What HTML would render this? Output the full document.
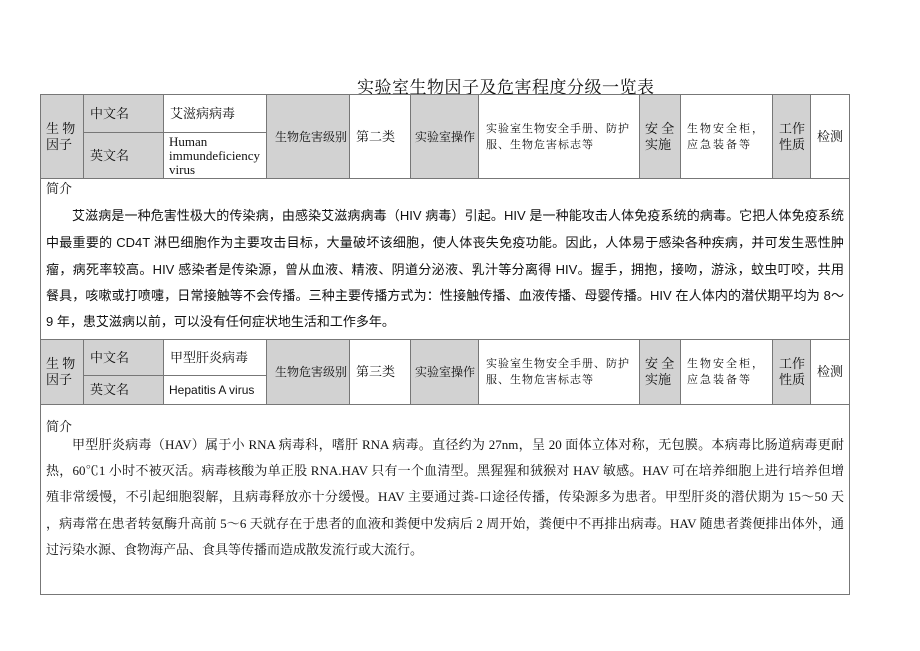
<!DOCTYPE html>
<html><head><meta charset="utf-8"><style>
body{margin:0;width:920px;height:651px;background:#fff;position:relative;font-family:"Liberation Serif","Noto Serif CJK SC","Noto Sans CJK SC",serif;color:#111;overflow:hidden}
.a{position:absolute}
.c{position:absolute;box-sizing:border-box;border:1px solid #777;display:flex;align-items:center;font-size:12px;line-height:16px;white-space:nowrap}
.g{background:#d2d2d2}
.l{position:absolute;left:46px;width:798px;font-size:13px;white-space:nowrap;text-align:justify;text-align-last:justify;line-height:18px;overflow:hidden}
.s{font-family:"Liberation Sans","Noto Sans CJK SC",sans-serif}
</style></head><body>
<div class="a" style="left:357px;top:73px;font-size:17px;letter-spacing:0.5px">实验室生物因子及危害程度分级一览表</div>

<div class="c g" style="left:40px;top:94px;width:44px;height:85px;padding-left:5px;font-size:13px">生&nbsp;物<br>因子</div>
<div class="c g" style="left:83px;top:94px;width:81px;height:39px;padding-left:6px;font-size:13px">中文名</div>
<div class="c g" style="left:83px;top:132px;width:81px;height:47px;padding-left:6px;font-size:13px">英文名</div>
<div class="c" style="left:163px;top:94px;width:104px;height:39px;padding-left:6px;font-size:13px">艾滋病病毒</div>
<div class="c" style="left:163px;top:132px;width:104px;height:47px;padding-left:5px;font-size:13px;line-height:14px">Human<br>immundeficiency<br>virus</div>
<div class="c g" style="left:266px;top:94px;width:84px;height:85px;padding-left:8px">生物危害级别</div>
<div class="c" style="left:349px;top:94px;width:62px;height:85px;padding-left:6px;font-size:13px">第二类</div>
<div class="c g" style="left:410px;top:94px;width:69px;height:85px;padding-left:4px">实验室操作</div>
<div class="c" style="left:478px;top:94px;width:162px;height:85px;padding-left:7px;font-size:11px;letter-spacing:1px">实验室生物安全手册、防护<br>服、生物危害标志等</div>
<div class="c g" style="left:639px;top:94px;width:42px;height:85px;padding-left:5px;font-size:13px">安&nbsp;全<br>实施</div>
<div class="c" style="left:680px;top:94px;width:93px;height:85px;padding-left:6px;font-size:11px;letter-spacing:2px">生物安全柜，<br>应急装备等</div>
<div class="c g" style="left:772px;top:94px;width:39px;height:85px;padding-left:6px;font-size:13px">工作<br>性质</div>
<div class="c" style="left:810px;top:94px;width:40px;height:85px;padding-left:6px;font-size:13px">检测</div>
<div class="c" style="left:40px;top:178px;width:810px;height:162px"></div>
<div class="l" style="top:180px;text-align-last:left">简介</div>
<div class="l s" style="top:207px;left:72px;width:772px">艾滋病是一种危害性极大的传染病，由感染艾滋病病毒（HIV 病毒）引起。HIV 是一种能攻击人体免疫系统的病毒。它把人体免疫系统</div>
<div class="l s" style="top:234px">中最重要的 CD4T 淋巴细胞作为主要攻击目标，大量破坏该细胞，使人体丧失免疫功能。因此，人体易于感染各种疾病，并可发生恶性肿</div>
<div class="l s" style="top:261px">瘤，病死率较高。HIV 感染者是传染源，曾从血液、精液、阴道分泌液、乳汁等分离得 HIV。握手，拥抱，接吻，游泳，蚊虫叮咬，共用</div>
<div class="l s" style="top:287px">餐具，咳嗽或打喷嚏，日常接触等不会传播。三种主要传播方式为：性接触传播、血液传播、母婴传播。HIV 在人体内的潜伏期平均为 8～</div>
<div class="l s" style="top:313px;text-align-last:left">9 年，患艾滋病以前，可以没有任何症状地生活和工作多年。</div>

<div class="c g" style="left:40px;top:339px;width:44px;height:66px;padding-left:5px;font-size:13px">生&nbsp;物<br>因子</div>
<div class="c g" style="left:83px;top:339px;width:81px;height:37px;padding-left:6px;font-size:13px">中文名</div>
<div class="c g" style="left:83px;top:375px;width:81px;height:30px;padding-left:6px;font-size:13px">英文名</div>
<div class="c" style="left:163px;top:339px;width:104px;height:37px;padding-left:6px;font-size:13px">甲型肝炎病毒</div>
<div class="c s" style="left:163px;top:375px;width:104px;height:30px;padding-left:5px;font-size:12px">Hepatitis A virus</div>
<div class="c g" style="left:266px;top:339px;width:84px;height:66px;padding-left:8px">生物危害级别</div>
<div class="c" style="left:349px;top:339px;width:62px;height:66px;padding-left:6px;font-size:13px">第三类</div>
<div class="c g" style="left:410px;top:339px;width:69px;height:66px;padding-left:4px">实验室操作</div>
<div class="c" style="left:478px;top:339px;width:162px;height:66px;padding-left:7px;font-size:11px;letter-spacing:1px">实验室生物安全手册、防护<br>服、生物危害标志等</div>
<div class="c g" style="left:639px;top:339px;width:42px;height:66px;padding-left:5px;font-size:13px">安&nbsp;全<br>实施</div>
<div class="c" style="left:680px;top:339px;width:93px;height:66px;padding-left:6px;font-size:11px;letter-spacing:2px">生物安全柜，<br>应急装备等</div>
<div class="c g" style="left:772px;top:339px;width:39px;height:66px;padding-left:6px;font-size:13px">工作<br>性质</div>
<div class="c" style="left:810px;top:339px;width:40px;height:66px;padding-left:6px;font-size:13px">检测</div>
<div class="c" style="left:40px;top:404px;width:810px;height:191px"></div>
<div class="l" style="top:418px;text-align-last:left">简介</div>
<div class="l" style="top:436px;left:72px;width:772px">甲型肝炎病毒（HAV）属于小 RNA 病毒科，嗜肝 RNA 病毒。直径约为 27nm，呈 20 面体立体对称，无包膜。本病毒比肠道病毒更耐</div>
<div class="l" style="top:462px">热，60℃1 小时不被灭活。病毒核酸为单正股 RNA.HAV 只有一个血清型。黑猩猩和狨猴对 HAV 敏感。HAV 可在培养细胞上进行培养但增</div>
<div class="l" style="top:488px">殖非常缓慢，不引起细胞裂解，且病毒释放亦十分缓慢。HAV 主要通过粪-口途径传播，传染源多为患者。甲型肝炎的潜伏期为 15～50 天</div>
<div class="l" style="top:515px">，病毒常在患者转氨酶升高前 5～6 天就存在于患者的血液和粪便中发病后 2 周开始，粪便中不再排出病毒。HAV 随患者粪便排出体外，通</div>
<div class="l" style="top:541px;text-align-last:left">过污染水源、食物海产品、食具等传播而造成散发流行或大流行。</div>
</body></html>
